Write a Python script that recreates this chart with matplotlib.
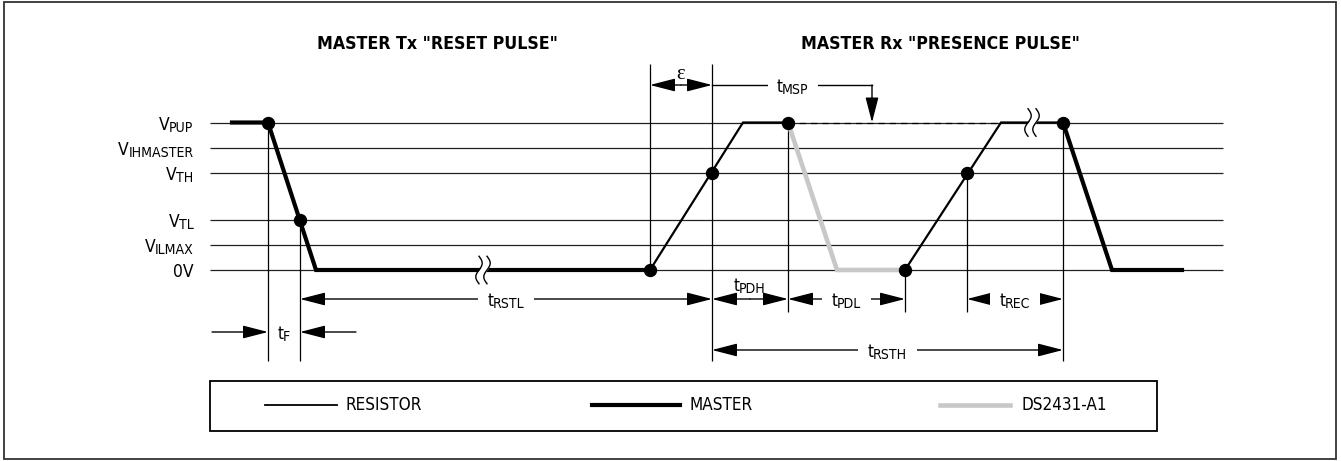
import os
import matplotlib
matplotlib.use('Agg')
import matplotlib.pyplot as plt
import numpy as np
from matplotlib import font_manager
from matplotlib.font_manager import FontProperties
from matplotlib.patches import Rectangle

# ---- fonts: prefer a narrow sans like the original ----
files = set(font_manager.findSystemFonts()) | {f.fname for f in font_manager.fontManager.ttflist}
by_name = {os.path.basename(f).lower(): f for f in files}


def find_font(cands, fallback):
    for c in cands:
        if c.lower() in by_name:
            return dict(fname=by_name[c.lower()])
    return dict(family=fallback[0], weight=fallback[1])


REG = find_font(['LiberationSansNarrow-Regular.ttf', 'NotoSans-Condensed.ttf',
                 'DejaVuSansCondensed.ttf', 'LiberationSans-Regular.ttf'], ('DejaVu Sans', 'normal'))
BOLD = find_font(['LiberationSansNarrow-Bold.ttf', 'NotoSans-CondensedBold.ttf',
                  'DejaVuSansCondensed-Bold.ttf', 'LiberationSans-Bold.ttf'], ('DejaVu Sans', 'bold'))


def fp(kind, size):
    return FontProperties(size=size, **kind)


# ---- data ----
level_main = ['V', 'V', 'V', 'V', 'V', '0V']
level_sub = ['PUP', 'IHMASTER', 'TH', 'TL', 'ILMAX', '']
level_v = [5.9, 4.9, 3.9, 2.0, 1.0, 0.0]
PUP, IH, TH, TL, ILM, ZERO = level_v

# waveforms (time, volts)
master_a_t = [232, 268, 316, 650]
master_a_v = [PUP, PUP, ZERO, ZERO]
resist_a_t = [650, 743, 788]
resist_a_v = [ZERO, PUP, PUP]
ds_t = [788, 837, 905]
ds_v = [PUP, ZERO, ZERO]
resist_b_t = [905, 1001, 1063]
resist_b_v = [ZERO, PUP, PUP]
master_b_t = [1063, 1112, 1182]
master_b_v = [PUP, ZERO, ZERO]
msp_t = [788, 1001]

dot_t = [268, 300, 650, 712, 788, 905, 967, 1063]
dot_v = [PUP, TL, ZERO, TH, PUP, ZERO, TH, PUP]

break_t = [483, 1032]
break_v = [ZERO, PUP]

# timing markers: subscript, start, end
dims_row1 = [('RSTL', 300, 712), ('PDL', 788, 905), ('REC', 967, 1063)]
dim_pdh = ('PDH', 712, 788)
dim_rsth = ('RSTH', 712, 1063)
dim_f = ('F', 268, 300)
dim_eps = (650, 712)
msp_arrow_t = 872

legend_labels = ['RESISTOR', 'MASTER', 'DS2431-A1']
titles = ['MASTER Tx "RESET PULSE"', 'MASTER Rx "PRESENCE PULSE"']


def row(px):
    # layout helper: pixel row -> volts axis
    return (270 - px) / 25.0


fig = plt.figure(figsize=(13.41, 4.61), dpi=100)
ax = fig.add_axes([0, 0, 1, 1])
ax.set_xlim(0, 1341)           # 1 x unit == 1 pixel
ax.set_ylim(row(461), row(0))
ax.axis('off')
renderer = fig.canvas.get_renderer()


def width_of(t):
    return t.get_window_extent(renderer).width


def fit_size(text, kind, target):
    t = ax.text(0, 0, text, fontproperties=fp(kind, 10))
    w = width_of(t)
    t.remove()
    return 10 * target / w


base = min(fit_size('RESISTOR', REG, 77), 13.5)
tsize = min(fit_size(titles[0], BOLD, 240), 14.5)
subsize = base * 0.82


def comp(x, ybase, main, sub, ha='center', box=False, size=None, drop=2.0):
    size = size or base
    t1 = ax.text(0, row(ybase), main, fontproperties=fp(REG, size), va='baseline', zorder=7)
    w1 = width_of(t1)
    w2 = 0
    t2 = None
    if sub:
        t2 = ax.text(0, row(ybase + drop), sub, fontproperties=fp(REG, subsize), va='baseline', zorder=7)
        w2 = width_of(t2)
    total = w1 + w2
    x0 = {'left': x, 'right': x - total, 'center': x - total / 2}[ha]
    t1.set_x(x0)
    if t2 is not None:
        t2.set_x(x0 + w1 - 0.5)
    if box:
        ax.add_patch(Rectangle((x0 - 9, row(ybase + 3)), total + 18, 18 / 25.0,
                               fc='white', ec='none', zorder=6))


# outer frame
ax.add_patch(Rectangle((4, row(459)), 1332, row(2) - row(459), fill=False, ec='#333333', lw=1.3))

# titles
ax.text(437, row(44), titles[0], ha='center', va='center', fontproperties=fp(BOLD, tsize))
ax.text(940, row(44), titles[1], ha='center', va='center', fontproperties=fp(BOLD, tsize))

# level lines + labels
ax.hlines(level_v, 210, 1223, color='#222222', lw=0.9, zorder=1)
for m, sb, v in zip(level_main, level_sub, level_v):
    comp(194, 270 - v * 25 + 7, m, sb, ha='right', size=base * 1.02)

# vertical guides
guide_t = [268, 300, 650, 712, 788, 905, 967, 1063]
guide_top = [PUP, TL, row(64), row(64), PUP, ZERO, TH, PUP]
guide_bot = [row(361), row(361), ZERO, row(361), row(312), row(312), row(312), row(361)]
ax.vlines(guide_t, guide_bot, guide_top, color='black', lw=0.9, zorder=2)

# waveforms
ax.plot(msp_t, [PUP, PUP], color='black', lw=0.9, ls=(0, (5, 4)), zorder=3)
ax.plot(resist_a_t, resist_a_v, color='black', lw=1.6, zorder=3, solid_joinstyle='miter')
ax.plot(resist_b_t, resist_b_v, color='black', lw=1.6, zorder=3, solid_joinstyle='miter')
ax.plot(ds_t, ds_v, color='#c8c8c8', lw=3.3, zorder=3, solid_joinstyle='miter')
ax.plot(master_a_t, master_a_v, color='black', lw=3.0, zorder=4, solid_joinstyle='miter')
ax.plot(master_b_t, master_b_v, color='black', lw=3.0, zorder=4, solid_joinstyle='miter')
ax.plot(dot_t, dot_v, 'o', color='black', ms=8.6, zorder=6)

# break marks
s = np.linspace(0, 1, 40)
for bt, bv in zip(break_t, break_v):
    yy = bv + (0.5 - s) * 1.1
    xl = bt - 4 + 3.2 * np.sin(2 * np.pi * s)
    xr = bt + 4 + 3.2 * np.sin(2 * np.pi * s)
    ax.fill_betweenx(yy, xl, xr, color='white', lw=0, zorder=5)
    ax.plot(xl, yy, color='black', lw=1.0, zorder=5)
    ax.plot(xr, yy, color='black', lw=1.0, zorder=5)

AP = dict(arrowstyle='-|>,head_length=15.5,head_width=4', mutation_scale=1, lw=1.0,
          color='black', shrinkA=0, shrinkB=0)


def arrow(x0, x1, y0, y1=None):
    if y1 is None:
        y1 = y0
    ax.annotate('', xy=(x1, y1), xytext=(x0, y0), arrowprops=AP, zorder=3)


for sub, a, b in dims_row1:
    c = (a + b) / 2
    arrow(c, a, row(299))
    arrow(c, b, row(299))
    comp(c, 306, 't', sub, box=True)

sub, a, b = dim_pdh
c = (a + b) / 2
arrow(c, a, row(299))
arrow(c, b, row(299))
comp(c, 291, 't', sub)

sub, a, b = dim_rsth
c = (a + b) / 2
arrow(c, a, row(350))
arrow(c, b, row(350))
comp(c, 357, 't', sub, box=True)

sub, a, b = dim_f
arrow(a - 56, a, row(332))
arrow(b + 56, b, row(332))
comp((a + b) / 2, 339, 't', sub)

a, b = dim_eps
c = (a + b) / 2
arrow(c, a, row(85))
arrow(c, b, row(85))
ax.text(c, row(79), 'ε', ha='center', va='baseline', fontsize=base * 1.2, family='Liberation Serif')

# t_MSP
ax.plot([dim_eps[1], msp_arrow_t], [row(85), row(85)], color='black', lw=1.0, zorder=3)
arrow(msp_arrow_t, msp_arrow_t, row(85), PUP)
comp(793, 92, 't', 'MSP', box=True)

# legend box
ax.add_patch(Rectangle((210, row(431)), 947, row(381) - row(431), fill=False, ec='black', lw=1.3))
ly = row(405)
ax.plot([265, 337], [ly, ly], color='black', lw=1.3)
ax.plot([592, 680], [ly, ly], color='black', lw=3.0)
ax.plot([940, 1010], [ly, ly], color='#c8c8c8', lw=3.3)
for lx, lab in zip([346, 690, 1022], legend_labels):
    ax.text(lx, ly, lab, va='center', fontproperties=fp(REG, base))

fig.savefig('out.png', dpi=100)
